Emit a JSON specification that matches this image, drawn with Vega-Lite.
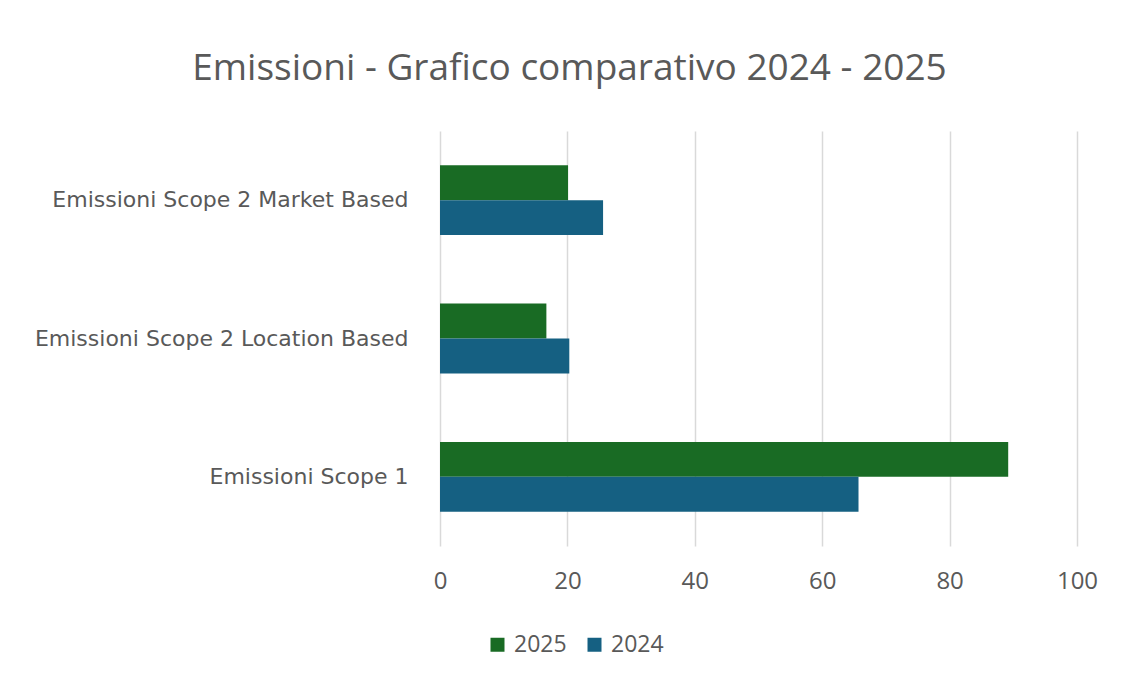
{
  "$schema": "https://vega.github.io/schema/vega-lite/v6.json",
  "width": 637,
  "height": 415,
  "autosize": {"type": "none"},
  "padding": {"left": 440, "top": 131, "right": 44, "bottom": 135},
  "background": "white",
  "title": {
    "text": "Emissioni - Grafico comparativo 2024 - 2025",
    "font": "Open Sans",
    "fontSize": 37,
    "fontWeight": "normal",
    "color": "#595959",
    "anchor": "middle",
    "dx": -189,
    "offset": 43
  },
  "data": {
    "values": [
      {"categoria": "Emissioni Scope 2 Market Based", "anno": "2025", "valore": 20.1},
      {"categoria": "Emissioni Scope 2 Market Based", "anno": "2024", "valore": 25.6},
      {"categoria": "Emissioni Scope 2 Location Based", "anno": "2025", "valore": 16.7},
      {"categoria": "Emissioni Scope 2 Location Based", "anno": "2024", "valore": 20.3},
      {"categoria": "Emissioni Scope 1", "anno": "2025", "valore": 89.2},
      {"categoria": "Emissioni Scope 1", "anno": "2024", "valore": 65.7}
    ]
  },
  "mark": {"type": "bar"},
  "encoding": {
    "y": {
      "field": "categoria",
      "type": "nominal",
      "sort": ["Emissioni Scope 2 Market Based", "Emissioni Scope 2 Location Based", "Emissioni Scope 1"],
      "scale": {"paddingInner": 0.495, "paddingOuter": 0.2475},
      "axis": {
        "title": null,
        "domain": false,
        "ticks": false,
        "labelFont": "DejaVu Sans",
        "labelFontSize": 22,
        "labelColor": "#595959",
        "labelPadding": 32,
        "labelLimit": 500
      }
    },
    "yOffset": {
      "field": "anno",
      "type": "nominal",
      "sort": ["2025", "2024"],
      "scale": {"paddingInner": 0, "paddingOuter": 0}
    },
    "x": {
      "field": "valore",
      "type": "quantitative",
      "scale": {"domain": [0, 100], "nice": false},
      "axis": {
        "title": null,
        "values": [0, 20, 40, 60, 80, 100],
        "domain": false,
        "ticks": false,
        "grid": true,
        "gridColor": "#d9d9d9",
        "gridWidth": 1.5,
        "labelFlush": false,
        "labelFont": "Open Sans",
        "labelFontSize": 24,
        "labelColor": "#595959",
        "labelPadding": 23
      }
    },
    "color": {
      "field": "anno",
      "type": "nominal",
      "scale": {"domain": ["2025", "2024"], "range": ["#196B24", "#156082"]},
      "legend": {
        "title": null,
        "orient": "none",
        "direction": "horizontal",
        "legendX": 46,
        "legendY": 502,
        "symbolType": "square",
        "symbolSize": 196,
        "symbolStrokeWidth": 0,
        "labelFont": "Open Sans",
        "labelFontSize": 23,
        "labelColor": "#595959",
        "columnPadding": 16,
        "labelOffset": 5
      }
    }
  },
  "config": {
    "view": {"stroke": null}
  }
}
